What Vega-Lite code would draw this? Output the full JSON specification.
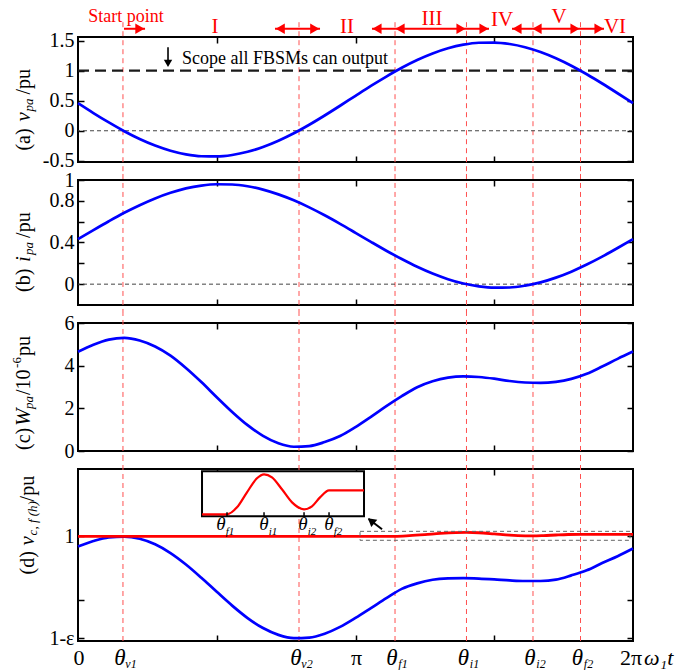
{
"$schema": "https://vega.github.io/schema/vega-lite/v6.json",
"background": "white",
"padding": {"left": 10, "top": 5, "right": 5, "bottom": 0},
"config": {
  "font": "Liberation Serif",
  "view": {"stroke": "black", "strokeWidth": 2},
  "axis": {"domain": false, "grid": false, "tickSize": -6, "tickColor": "black", "tickWidth": 1.5, "labelFont": "Liberation Serif", "labelFontSize": 20, "labelColor": "black", "labelPadding": 10, "labelOverlap": false, "labelFlush": false}
},
"datasets": {
  "curves": [
    {"t":0,"v":0.458,"i":0.432,"w":4.65,"vc":0.900},
    {"t":0.1745,"v":0.294,"i":0.519,"w":4.98,"vc":0.954},
    {"t":0.3491,"v":0.138,"i":0.604,"w":5.22,"vc":0.990},
    {"t":0.5236,"v":-0.008,"i":0.685,"w":5.30,"vc":0.998},
    {"t":0.6981,"v":-0.137,"i":0.758,"w":5.18,"vc":0.976},
    {"t":0.8727,"v":-0.246,"i":0.823,"w":4.90,"vc":0.922},
    {"t":1.0472,"v":-0.332,"i":0.877,"w":4.47,"vc":0.836},
    {"t":1.2217,"v":-0.392,"i":0.919,"w":3.89,"vc":0.724},
    {"t":1.3963,"v":-0.424,"i":0.946,"w":3.23,"vc":0.594},
    {"t":1.5708,"v":-0.428,"i":0.959,"w":2.52,"vc":0.456},
    {"t":1.7453,"v":-0.403,"i":0.957,"w":1.83,"vc":0.321},
    {"t":1.9199,"v":-0.350,"i":0.940,"w":1.21,"vc":0.199},
    {"t":2.0944,"v":-0.270,"i":0.908,"w":0.71,"vc":0.101},
    {"t":2.2689,"v":-0.166,"i":0.862,"w":0.36,"vc":0.034},
    {"t":2.4435,"v":-0.042,"i":0.805,"w":0.20,"vc":0.002},
    {"t":2.6180,"v":0.100,"i":0.737,"w":0.23,"vc":0.007},
    {"t":2.7925,"v":0.254,"i":0.661,"w":0.42,"vc":0.045},
    {"t":2.9671,"v":0.416,"i":0.579,"w":0.70,"vc":0.112},
    {"t":3.1416,"v":0.582,"i":0.493,"w":1.12,"vc":0.200},
    {"t":3.3161,"v":0.746,"i":0.406,"w":1.60,"vc":0.296},
    {"t":3.4907,"v":0.902,"i":0.321,"w":2.10,"vc":0.394},
    {"t":3.6652,"v":1.048,"i":0.241,"w":2.57,"vc":0.485},
    {"t":3.8397,"v":1.177,"i":0.167,"w":2.99,"vc":0.539},
    {"t":4.0143,"v":1.286,"i":0.102,"w":3.27,"vc":0.574},
    {"t":4.1888,"v":1.372,"i":0.048,"w":3.44,"vc":0.587},
    {"t":4.3633,"v":1.432,"i":0.006,"w":3.50,"vc":0.590},
    {"t":4.5379,"v":1.464,"i":-0.021,"w":3.47,"vc":0.586},
    {"t":4.7124,"v":1.468,"i":-0.034,"w":3.39,"vc":0.578},
    {"t":4.8869,"v":1.443,"i":-0.032,"w":3.28,"vc":0.568},
    {"t":5.0615,"v":1.390,"i":-0.014,"w":3.21,"vc":0.562},
    {"t":5.2360,"v":1.310,"i":0.017,"w":3.19,"vc":0.562},
    {"t":5.4105,"v":1.206,"i":0.063,"w":3.24,"vc":0.575},
    {"t":5.5851,"v":1.082,"i":0.120,"w":3.38,"vc":0.617},
    {"t":5.7596,"v":0.940,"i":0.188,"w":3.62,"vc":0.667},
    {"t":5.9341,"v":0.786,"i":0.264,"w":3.96,"vc":0.738},
    {"t":6.1087,"v":0.624,"i":0.347,"w":4.32,"vc":0.805},
    {"t":6.2832,"v":0.458,"i":0.432,"w":4.66,"vc":0.880}
  ],
  "red": [
    {"t":0,"r":1},{"t":3.589,"r":1},{"t":3.752,"r":1.006},{"t":3.927,"r":1.016},{"t":4.102,"r":1.028},
    {"t":4.276,"r":1.036},{"t":4.398,"r":1.038},{"t":4.538,"r":1.035},{"t":4.712,"r":1.024},{"t":4.887,"r":1.012},
    {"t":5.061,"r":1.005},{"t":5.151,"r":1.004},{"t":5.271,"r":1.007},{"t":5.411,"r":1.013},{"t":5.550,"r":1.018},
    {"t":5.689,"r":1.020},{"t":6.2832,"r":1.020}
  ],
  "thetas": [{"t":0.509},{"t":2.502},{"t":3.589},{"t":4.398},{"t":5.151},{"t":5.689}],
  "inset": [
    {"t":1.404,"r":1.216},{"t":1.687,"r":1.216},{"t":1.80,"r":1.284},{"t":1.913,"r":1.431},{"t":2.026,"r":1.569},
    {"t":2.106,"r":1.608},{"t":2.196,"r":1.578},{"t":2.309,"r":1.461},{"t":2.423,"r":1.333},{"t":2.559,"r":1.265},
    {"t":2.649,"r":1.294},{"t":2.740,"r":1.382},{"t":2.842,"r":1.451},{"t":3.238,"r":1.451}
  ],
  "arrows": [
    {"t":0.521,"t2":0.759},{"t":2.230,"t2":2.740},{"t":3.328,"t2":3.589},{"t":3.589,"t2":4.393},
    {"t":4.393,"t2":4.653},{"t":4.913,"t2":5.140},{"t":5.140,"t2":5.683},{"t":5.683,"t2":5.955}
  ],
  "heads": [
    {"t":0.70,"dir":"right"},{"t":2.29,"dir":"left"},{"t":2.68,"dir":"right"},{"t":3.385,"dir":"left"},
    {"t":3.646,"dir":"left"},{"t":4.336,"dir":"right"},{"t":4.596,"dir":"right"},{"t":4.97,"dir":"left"},
    {"t":5.197,"dir":"left"},{"t":5.626,"dir":"right"},{"t":5.898,"dir":"right"}
  ],
  "romans": [
    {"t":1.551,"y":1.722,"lab":"I"},{"t":3.045,"y":1.722,"lab":"II"},{"t":4.008,"y":1.855,"lab":"III"},
    {"t":4.800,"y":1.84,"lab":"IV"},{"t":5.445,"y":1.888,"lab":"V"},{"t":6.079,"y":1.722,"lab":"VI"}
  ],
  "xlab": [{"t":0.509,"s":"v1"},{"t":2.502,"s":"v2"},{"t":3.589,"s":"f1"},{"t":4.398,"s":"i1"},{"t":5.151,"s":"i2"},{"t":5.689,"s":"f2"}],
  "ilab": [{"t":1.619,"s":"f1"},{"t":2.106,"s":"i1"},{"t":2.547,"s":"i2"},{"t":2.842,"s":"f2"}]
},
"spacing": 18,
"bounds": "flush",
"vconcat": [
{
  "width": 555, "height": 125,
  "resolve": {"axis": {"x": "independent", "y": "independent"}},
  "layer": [
    {"data": {"name": "thetas"},
     "mark": {"type": "rule", "color": "#ff5050", "strokeDash": [5,4], "strokeWidth": 1},
     "encoding": {"x": {"field":"t","type":"quantitative","scale":{"domain":[0,6.2832],"nice":false,"zero":false},"axis":null},
                  "y": {"datum": -0.673, "type":"quantitative","scale":{"domain":[-0.52,1.56],"nice":false,"zero":false},"axis":null},
                  "y2": {"datum": 1.855}}},
    {"data": {"values": [{"y": 1}]},
     "mark": {"type": "rule", "color": "#1a1a1a", "strokeDash": [11,6], "strokeWidth": 2.2},
     "encoding": {"y": {"field":"y","type":"quantitative","scale":{"domain":[-0.52,1.56],"nice":false,"zero":false},"axis":null}}},
    {"data": {"values": [{"y": 0}]},
     "mark": {"type": "rule", "color": "#444444", "strokeDash": [4,3], "strokeWidth": 1},
     "encoding": {"y": {"field":"y","type":"quantitative","scale":{"domain":[-0.52,1.56],"nice":false,"zero":false},"axis":null}}},
    {"data": {"name": "curves"},
     "mark": {"type": "line", "color": "#0000ff", "strokeWidth": 2.7, "interpolate": "monotone"},
     "encoding": {"x": {"field":"t","type":"quantitative","scale":{"domain":[0,6.2832],"nice":false,"zero":false},"axis":{"orient":"bottom","values":[1.5708,3.1416,4.7124],"labels":false,"title":null}},
                  "y": {"field":"v","type":"quantitative","scale":{"domain":[-0.52,1.56],"nice":false,"zero":false},"axis":{"orient":"left","values":[-0.5,0,0.5,1,1.5],"title":null,"labelExpr":"datum.value==1.5?'1.5':datum.value==1?'1':datum.value==0.5?'0.5':datum.value==0?'0':'-0.5'"}}}},
    {"data": {"name": "curves"},
     "mark": {"type": "line", "opacity": 0},
     "encoding": {"x": {"field":"t","type":"quantitative","scale":{"domain":[0,6.2832],"nice":false,"zero":false},"axis":{"orient":"top","values":[1.5708,3.1416,4.7124],"labels":false,"title":null}},
                  "y": {"field":"v","type":"quantitative","scale":{"domain":[-0.52,1.56],"nice":false,"zero":false},"axis":{"orient":"right","values":[-0.5,0,0.5,1,1.5],"labels":false,"title":null}}}},
    {"data": {"values": [{"t":1.177,"y":1.188,"lab":"Scope all FBSMs can output"}]},
     "mark": {"type": "text", "align": "left", "baseline": "middle", "fontSize": 18, "color": "black"},
     "encoding": {"x": {"field":"t","type":"quantitative","scale":{"domain":[0,6.2832],"nice":false,"zero":false},"axis":null},
                  "y": {"field":"y","type":"quantitative","scale":{"domain":[-0.52,1.56],"nice":false,"zero":false},"axis":null},
                  "text": {"field":"lab"}}},
    {"data": {"values": [{"t":1.019,"y":1.388,"y2":1.09}]},
     "mark": {"type": "rule", "color": "black", "strokeWidth": 1.6},
     "encoding": {"x": {"field":"t","type":"quantitative","scale":{"domain":[0,6.2832],"nice":false,"zero":false},"axis":null},
                  "y": {"field":"y","type":"quantitative","scale":{"domain":[-0.52,1.56],"nice":false,"zero":false},"axis":null},
                  "y2": {"field":"y2"}}},
    {"data": {"values": [{"t":1.019,"y":1.12}]},
     "mark": {"type": "point", "shape": "triangle-down", "filled": true, "color": "black", "size": 70, "opacity": 1},
     "encoding": {"x": {"field":"t","type":"quantitative","scale":{"domain":[0,6.2832],"nice":false,"zero":false},"axis":null},
                  "y": {"field":"y","type":"quantitative","scale":{"domain":[-0.52,1.56],"nice":false,"zero":false},"axis":null}}},
    {"data": {"name": "arrows"},
     "mark": {"type": "rule", "color": "#ff0000", "strokeWidth": 2},
     "encoding": {"x": {"field":"t","type":"quantitative","scale":{"domain":[0,6.2832],"nice":false,"zero":false},"axis":null},
                  "x2": {"field":"t2"},
                  "y": {"datum": 1.697, "type":"quantitative","scale":{"domain":[-0.52,1.56],"nice":false,"zero":false},"axis":null}}},
    {"data": {"name": "heads"},
     "mark": {"type": "point", "filled": true, "color": "#ff0000", "size": 110, "opacity": 1},
     "encoding": {"x": {"field":"t","type":"quantitative","scale":{"domain":[0,6.2832],"nice":false,"zero":false},"axis":null},
                  "y": {"datum": 1.697, "type":"quantitative","scale":{"domain":[-0.52,1.56],"nice":false,"zero":false},"axis":null},
                  "shape": {"field":"dir","type":"nominal","scale":{"domain":["left","right"],"range":["triangle-left","triangle-right"]},"legend":null}}},
    {"data": {"values": [{"t":0.543,"y":1.888,"lab":"Start point"}]},
     "mark": {"type": "text", "align": "center", "baseline": "middle", "fontSize": 18, "color": "#ff0000"},
     "encoding": {"x": {"field":"t","type":"quantitative","scale":{"domain":[0,6.2832],"nice":false,"zero":false},"axis":null},
                  "y": {"field":"y","type":"quantitative","scale":{"domain":[-0.52,1.56],"nice":false,"zero":false},"axis":null},
                  "text": {"field":"lab"}}},
    {"data": {"name": "romans"},
     "mark": {"type": "text", "align": "center", "baseline": "middle", "fontSize": 21, "color": "#ff0000"},
     "encoding": {"x": {"field":"t","type":"quantitative","scale":{"domain":[0,6.2832],"nice":false,"zero":false},"axis":null},
                  "y": {"field":"y","type":"quantitative","scale":{"domain":[-0.52,1.56],"nice":false,"zero":false},"axis":null},
                  "text": {"field":"lab"}}},
    {"data": {"values": [{"t":-0.61,"y":-0.33}]},
     "mark": {"type": "text", "text": "(a)", "angle": 270, "align": "left", "baseline": "middle", "fontSize": 20, "color": "black"},
     "encoding": {"x": {"field":"t","type":"quantitative","scale":{"domain":[0,6.2832],"nice":false,"zero":false},"axis":null},
                  "y": {"field":"y","type":"quantitative","scale":{"domain":[-0.52,1.56],"nice":false,"zero":false},"axis":null}}},
    {"data": {"values": [{"t":-0.61,"y":-0.33}]},
     "mark": {"type": "text", "text": "v", "fontStyle": "italic", "angle": 270, "align": "left", "baseline": "middle", "fontSize": 21, "dx": 29, "color": "black"},
     "encoding": {"x": {"field":"t","type":"quantitative","scale":{"domain":[0,6.2832],"nice":false,"zero":false},"axis":null},
                  "y": {"field":"y","type":"quantitative","scale":{"domain":[-0.52,1.56],"nice":false,"zero":false},"axis":null}}},
    {"data": {"values": [{"t":-0.61,"y":-0.33}]},
     "mark": {"type": "text", "text": "pa", "fontStyle": "italic", "angle": 270, "align": "left", "baseline": "middle", "fontSize": 13, "dx": 39, "dy": 5, "color": "black"},
     "encoding": {"x": {"field":"t","type":"quantitative","scale":{"domain":[0,6.2832],"nice":false,"zero":false},"axis":null},
                  "y": {"field":"y","type":"quantitative","scale":{"domain":[-0.52,1.56],"nice":false,"zero":false},"axis":null}}},
    {"data": {"values": [{"t":-0.61,"y":-0.33}]},
     "mark": {"type": "text", "text": "/pu", "angle": 270, "align": "left", "baseline": "middle", "fontSize": 20, "dx": 56, "color": "black"},
     "encoding": {"x": {"field":"t","type":"quantitative","scale":{"domain":[0,6.2832],"nice":false,"zero":false},"axis":null},
                  "y": {"field":"y","type":"quantitative","scale":{"domain":[-0.52,1.56],"nice":false,"zero":false},"axis":null}}}
  ]
},
{
  "width": 555, "height": 125,
  "resolve": {"axis": {"x": "independent", "y": "independent"}},
  "layer": [
    {"data": {"name": "thetas"},
     "mark": {"type": "rule", "color": "#ff5050", "strokeDash": [5,4], "strokeWidth": 1},
     "encoding": {"x": {"field":"t","type":"quantitative","scale":{"domain":[0,6.2832],"nice":false,"zero":false},"axis":null},
                  "y": {"datum": -0.286, "type":"quantitative","scale":{"domain":[-0.2,1],"nice":false,"zero":false},"axis":null},
                  "y2": {"datum": 1.086}}},
    {"data": {"values": [{"y": 0}]},
     "mark": {"type": "rule", "color": "#444444", "strokeDash": [4,3], "strokeWidth": 1},
     "encoding": {"y": {"field":"y","type":"quantitative","scale":{"domain":[-0.2,1],"nice":false,"zero":false},"axis":null}}},
    {"data": {"name": "curves"},
     "mark": {"type": "line", "color": "#0000ff", "strokeWidth": 2.7, "interpolate": "monotone"},
     "encoding": {"x": {"field":"t","type":"quantitative","scale":{"domain":[0,6.2832],"nice":false,"zero":false},"axis":{"orient":"bottom","values":[1.5708,3.1416,4.7124],"labels":false,"title":null}},
                  "y": {"field":"i","type":"quantitative","scale":{"domain":[-0.2,1],"nice":false,"zero":false},"axis":{"orient":"left","values":[0,0.2,0.4,0.6,0.8,1],"title":null,"labelExpr":"datum.value==1?'1':datum.value==0.8?'0.8':datum.value==0.4?'0.4':datum.value==0?'0':''"}}}},
    {"data": {"name": "curves"},
     "mark": {"type": "line", "opacity": 0},
     "encoding": {"x": {"field":"t","type":"quantitative","scale":{"domain":[0,6.2832],"nice":false,"zero":false},"axis":{"orient":"top","values":[1.5708,3.1416,4.7124],"labels":false,"title":null}},
                  "y": {"field":"i","type":"quantitative","scale":{"domain":[-0.2,1],"nice":false,"zero":false},"axis":{"orient":"right","values":[0,0.2,0.4,0.6,0.8,1],"labels":false,"title":null}}}},
    {"data": {"values": [{"t":-0.61,"y":-0.074}]},
     "mark": {"type": "text", "text": "(b)", "angle": 270, "align": "left", "baseline": "middle", "fontSize": 20, "color": "black"},
     "encoding": {"x": {"field":"t","type":"quantitative","scale":{"domain":[0,6.2832],"nice":false,"zero":false},"axis":null},
                  "y": {"field":"y","type":"quantitative","scale":{"domain":[-0.2,1],"nice":false,"zero":false},"axis":null}}},
    {"data": {"values": [{"t":-0.61,"y":-0.074}]},
     "mark": {"type": "text", "text": "i", "fontStyle": "italic", "angle": 270, "align": "left", "baseline": "middle", "fontSize": 21, "dx": 30, "color": "black"},
     "encoding": {"x": {"field":"t","type":"quantitative","scale":{"domain":[0,6.2832],"nice":false,"zero":false},"axis":null},
                  "y": {"field":"y","type":"quantitative","scale":{"domain":[-0.2,1],"nice":false,"zero":false},"axis":null}}},
    {"data": {"values": [{"t":-0.61,"y":-0.074}]},
     "mark": {"type": "text", "text": "pa", "fontStyle": "italic", "angle": 270, "align": "left", "baseline": "middle", "fontSize": 13, "dx": 37, "dy": 5, "color": "black"},
     "encoding": {"x": {"field":"t","type":"quantitative","scale":{"domain":[0,6.2832],"nice":false,"zero":false},"axis":null},
                  "y": {"field":"y","type":"quantitative","scale":{"domain":[-0.2,1],"nice":false,"zero":false},"axis":null}}},
    {"data": {"values": [{"t":-0.61,"y":-0.074}]},
     "mark": {"type": "text", "text": "/pu", "angle": 270, "align": "left", "baseline": "middle", "fontSize": 20, "dx": 54, "color": "black"},
     "encoding": {"x": {"field":"t","type":"quantitative","scale":{"domain":[0,6.2832],"nice":false,"zero":false},"axis":null},
                  "y": {"field":"y","type":"quantitative","scale":{"domain":[-0.2,1],"nice":false,"zero":false},"axis":null}}}
  ]
},
{
  "width": 555, "height": 128,
  "resolve": {"axis": {"x": "independent", "y": "independent"}},
  "layer": [
    {"data": {"name": "thetas"},
     "mark": {"type": "rule", "color": "#ff5050", "strokeDash": [5,4], "strokeWidth": 1},
     "encoding": {"x": {"field":"t","type":"quantitative","scale":{"domain":[0,6.2832],"nice":false,"zero":false},"axis":null},
                  "y": {"datum": -0.42, "type":"quantitative","scale":{"domain":[0,6],"nice":false,"zero":false},"axis":null},
                  "y2": {"datum": 6.42}}},
    {"data": {"name": "curves"},
     "mark": {"type": "line", "color": "#0000ff", "strokeWidth": 2.7, "interpolate": "monotone"},
     "encoding": {"x": {"field":"t","type":"quantitative","scale":{"domain":[0,6.2832],"nice":false,"zero":false},"axis":{"orient":"bottom","values":[1.5708,3.1416,4.7124],"labels":false,"title":null}},
                  "y": {"field":"w","type":"quantitative","scale":{"domain":[0,6],"nice":false,"zero":false},"axis":{"orient":"left","values":[0,2,4,6],"title":null,"labelExpr":"datum.value==6?'6':datum.value==4?'4':datum.value==2?'2':'0'"}}}},
    {"data": {"name": "curves"},
     "mark": {"type": "line", "opacity": 0},
     "encoding": {"x": {"field":"t","type":"quantitative","scale":{"domain":[0,6.2832],"nice":false,"zero":false},"axis":{"orient":"top","values":[1.5708,3.1416,4.7124],"labels":false,"title":null}},
                  "y": {"field":"w","type":"quantitative","scale":{"domain":[0,6],"nice":false,"zero":false},"axis":{"orient":"right","values":[0,2,4,6],"labels":false,"title":null}}}},
    {"data": {"values": [{"t":-0.61,"y":0.05}]},
     "mark": {"type": "text", "text": "(c)", "angle": 270, "align": "left", "baseline": "middle", "fontSize": 20, "color": "black"},
     "encoding": {"x": {"field":"t","type":"quantitative","scale":{"domain":[0,6.2832],"nice":false,"zero":false},"axis":null},
                  "y": {"field":"y","type":"quantitative","scale":{"domain":[0,6],"nice":false,"zero":false},"axis":null}}},
    {"data": {"values": [{"t":-0.61,"y":0.05}]},
     "mark": {"type": "text", "text": "W", "fontStyle": "italic", "angle": 270, "align": "left", "baseline": "middle", "fontSize": 21, "dx": 24, "color": "black"},
     "encoding": {"x": {"field":"t","type":"quantitative","scale":{"domain":[0,6.2832],"nice":false,"zero":false},"axis":null},
                  "y": {"field":"y","type":"quantitative","scale":{"domain":[0,6],"nice":false,"zero":false},"axis":null}}},
    {"data": {"values": [{"t":-0.61,"y":0.05}]},
     "mark": {"type": "text", "text": "pa", "fontStyle": "italic", "angle": 270, "align": "left", "baseline": "middle", "fontSize": 13, "dx": 41, "dy": 5, "color": "black"},
     "encoding": {"x": {"field":"t","type":"quantitative","scale":{"domain":[0,6.2832],"nice":false,"zero":false},"axis":null},
                  "y": {"field":"y","type":"quantitative","scale":{"domain":[0,6],"nice":false,"zero":false},"axis":null}}},
    {"data": {"values": [{"t":-0.61,"y":0.05}]},
     "mark": {"type": "text", "text": "/10", "angle": 270, "align": "left", "baseline": "middle", "fontSize": 20, "dx": 55, "color": "black"},
     "encoding": {"x": {"field":"t","type":"quantitative","scale":{"domain":[0,6.2832],"nice":false,"zero":false},"axis":null},
                  "y": {"field":"y","type":"quantitative","scale":{"domain":[0,6],"nice":false,"zero":false},"axis":null}}},
    {"data": {"values": [{"t":-0.61,"y":0.05}]},
     "mark": {"type": "text", "text": "-6", "angle": 270, "align": "left", "baseline": "middle", "fontSize": 13, "dx": 82, "dy": -7, "color": "black"},
     "encoding": {"x": {"field":"t","type":"quantitative","scale":{"domain":[0,6.2832],"nice":false,"zero":false},"axis":null},
                  "y": {"field":"y","type":"quantitative","scale":{"domain":[0,6],"nice":false,"zero":false},"axis":null}}},
    {"data": {"values": [{"t":-0.61,"y":0.05}]},
     "mark": {"type": "text", "text": "pu", "angle": 270, "align": "left", "baseline": "middle", "fontSize": 20, "dx": 94, "color": "black"},
     "encoding": {"x": {"field":"t","type":"quantitative","scale":{"domain":[0,6.2832],"nice":false,"zero":false},"axis":null},
                  "y": {"field":"y","type":"quantitative","scale":{"domain":[0,6],"nice":false,"zero":false},"axis":null}}}
  ]
},
{
  "width": 555, "height": 172,
  "resolve": {"axis": {"x": "independent", "y": "independent"}},
  "layer": [
    {"data": {"name": "thetas"},
     "mark": {"type": "rule", "color": "#ff5050", "strokeDash": [5,4], "strokeWidth": 1},
     "encoding": {"x": {"field":"t","type":"quantitative","scale":{"domain":[0,6.2832],"nice":false,"zero":false},"axis":null},
                  "y": {"datum": -0.026, "type":"quantitative","scale":{"domain":[-0.026,1.66],"nice":false,"zero":false},"axis":null},
                  "y2": {"datum": 1.748}}},
    {"data": {"name": "curves"},
     "mark": {"type": "line", "color": "#0000ff", "strokeWidth": 2.7, "interpolate": "monotone"},
     "encoding": {"x": {"field":"t","type":"quantitative","scale":{"domain":[0,6.2832],"nice":false,"zero":false},"axis":{"orient":"bottom","values":[1.5708,3.1416,4.7124],"labels":false,"title":null}},
                  "y": {"field":"vc","type":"quantitative","scale":{"domain":[-0.026,1.66],"nice":false,"zero":false},"axis":{"orient":"left","values":[0,0.373,1],"title":null,"labelExpr":"datum.value==1?'1':datum.value==0?'1-ε':''"}}}},
    {"data": {"name": "curves"},
     "mark": {"type": "line", "opacity": 0},
     "encoding": {"x": {"field":"t","type":"quantitative","scale":{"domain":[0,6.2832],"nice":false,"zero":false},"axis":{"orient":"top","values":[1.5708,3.1416,4.7124],"labels":false,"title":null}},
                  "y": {"field":"vc","type":"quantitative","scale":{"domain":[-0.026,1.66],"nice":false,"zero":false},"axis":{"orient":"right","values":[0,0.373,1],"labels":false,"title":null}}}},
    {"data": {"name": "red"},
     "mark": {"type": "line", "color": "#ff0000", "strokeWidth": 2.8, "interpolate": "monotone"},
     "encoding": {"x": {"field":"t","type":"quantitative","scale":{"domain":[0,6.2832],"nice":false,"zero":false},"axis":null},
                  "y": {"field":"r","type":"quantitative","scale":{"domain":[-0.026,1.66],"nice":false,"zero":false},"axis":null}}},
    {"data": {"values": [{"t":3.193,"t2":6.249,"y":0.961,"y2":1.049}]},
     "mark": {"type": "rect", "fillOpacity": 0, "stroke": "#666666", "strokeWidth": 1, "strokeDash": [4,3]},
     "encoding": {"x": {"field":"t","type":"quantitative","scale":{"domain":[0,6.2832],"nice":false,"zero":false},"axis":null},
                  "x2": {"field":"t2"},
                  "y": {"field":"y","type":"quantitative","scale":{"domain":[-0.026,1.66],"nice":false,"zero":false},"axis":null},
                  "y2": {"field":"y2"}}},
    {"data": {"values": [{"t":1.404,"t2":3.238,"y":1.196,"y2":1.637}]},
     "mark": {"type": "rect", "fill": "white", "stroke": "black", "strokeWidth": 2},
     "encoding": {"x": {"field":"t","type":"quantitative","scale":{"domain":[0,6.2832],"nice":false,"zero":false},"axis":null},
                  "x2": {"field":"t2"},
                  "y": {"field":"y","type":"quantitative","scale":{"domain":[-0.026,1.66],"nice":false,"zero":false},"axis":null},
                  "y2": {"field":"y2"}}},
    {"data": {"name": "inset"},
     "mark": {"type": "line", "color": "#ff0000", "strokeWidth": 2.2, "interpolate": "monotone"},
     "encoding": {"x": {"field":"t","type":"quantitative","scale":{"domain":[0,6.2832],"nice":false,"zero":false},"axis":null},
                  "y": {"field":"r","type":"quantitative","scale":{"domain":[-0.026,1.66],"nice":false,"zero":false},"axis":null}}},
    {"data": {"values": [{"t":1.687},{"t":2.106},{"t":2.559},{"t":2.842}]},
     "mark": {"type": "rule", "color": "black", "strokeWidth": 1.5},
     "encoding": {"x": {"field":"t","type":"quantitative","scale":{"domain":[0,6.2832],"nice":false,"zero":false},"axis":null},
                  "y": {"datum": 1.196, "type":"quantitative","scale":{"domain":[-0.026,1.66],"nice":false,"zero":false},"axis":null},
                  "y2": {"datum": 1.236}}},
    {"data": {"name": "ilab"},
     "mark": {"type": "text", "text": "θ", "fontStyle": "italic", "fontSize": 19, "align": "center", "baseline": "middle", "color": "black"},
     "encoding": {"x": {"field":"t","type":"quantitative","scale":{"domain":[0,6.2832],"nice":false,"zero":false},"axis":null},
                  "y": {"datum": 1.118, "type":"quantitative","scale":{"domain":[-0.026,1.66],"nice":false,"zero":false},"axis":null}}},
    {"data": {"name": "ilab"},
     "mark": {"type": "text", "fontStyle": "italic", "fontSize": 11, "align": "center", "baseline": "middle", "dx": 9, "dy": 8, "color": "black"},
     "encoding": {"x": {"field":"t","type":"quantitative","scale":{"domain":[0,6.2832],"nice":false,"zero":false},"axis":null},
                  "y": {"datum": 1.118, "type":"quantitative","scale":{"domain":[-0.026,1.66],"nice":false,"zero":false},"axis":null},
                  "text": {"field":"s"}}},
    {"data": {"values": [{"t":3.442,"y":1.069,"t2":3.29,"y2":1.17}]},
     "mark": {"type": "rule", "color": "black", "strokeWidth": 2},
     "encoding": {"x": {"field":"t","type":"quantitative","scale":{"domain":[0,6.2832],"nice":false,"zero":false},"axis":null},
                  "x2": {"field":"t2"},
                  "y": {"field":"y","type":"quantitative","scale":{"domain":[-0.026,1.66],"nice":false,"zero":false},"axis":null},
                  "y2": {"field":"y2"}}},
    {"data": {"values": [{"t":3.318,"y":1.152}]},
     "mark": {"type": "point", "shape": "triangle-up", "angle": -51, "filled": true, "color": "black", "size": 90, "opacity": 1},
     "encoding": {"x": {"field":"t","type":"quantitative","scale":{"domain":[0,6.2832],"nice":false,"zero":false},"axis":null},
                  "y": {"field":"y","type":"quantitative","scale":{"domain":[-0.026,1.66],"nice":false,"zero":false},"axis":null}}},
    {"data": {"name": "xlab"},
     "mark": {"type": "text", "text": "θ", "fontStyle": "italic", "fontSize": 23, "align": "center", "baseline": "middle", "dx": -3, "dy": 17, "color": "black"},
     "encoding": {"x": {"field":"t","type":"quantitative","scale":{"domain":[0,6.2832],"nice":false,"zero":false},"axis":null},
                  "y": {"datum": -0.026, "type":"quantitative","scale":{"domain":[-0.026,1.66],"nice":false,"zero":false},"axis":null}}},
    {"data": {"name": "xlab"},
     "mark": {"type": "text", "fontStyle": "italic", "fontSize": 12, "align": "center", "baseline": "middle", "dx": 8, "dy": 23, "color": "black"},
     "encoding": {"x": {"field":"t","type":"quantitative","scale":{"domain":[0,6.2832],"nice":false,"zero":false},"axis":null},
                  "y": {"datum": -0.026, "type":"quantitative","scale":{"domain":[-0.026,1.66],"nice":false,"zero":false},"axis":null},
                  "text": {"field":"s"}}},
    {"data": {"values": [{"t":0,"lab":"0"},{"t":3.1416,"lab":"π"}]},
     "mark": {"type": "text", "fontSize": 22, "align": "center", "baseline": "middle", "dx": 1, "dy": 17, "color": "black"},
     "encoding": {"x": {"field":"t","type":"quantitative","scale":{"domain":[0,6.2832],"nice":false,"zero":false},"axis":null},
                  "y": {"datum": -0.026, "type":"quantitative","scale":{"domain":[-0.026,1.66],"nice":false,"zero":false},"axis":null},
                  "text": {"field":"lab"}}},
    {"data": {"values": [{"t":6.2832,"lab":"2π"}]},
     "mark": {"type": "text", "fontSize": 22, "align": "right", "baseline": "middle", "dx": 9, "dy": 17, "color": "black"},
     "encoding": {"x": {"field":"t","type":"quantitative","scale":{"domain":[0,6.2832],"nice":false,"zero":false},"axis":null},
                  "y": {"datum": -0.026, "type":"quantitative","scale":{"domain":[-0.026,1.66],"nice":false,"zero":false},"axis":null},
                  "text": {"field":"lab"}}},
    {"data": {"values": [{"t":6.2832,"lab":"ω₁t"}]},
     "mark": {"type": "text", "fontSize": 22, "fontStyle": "italic", "align": "left", "baseline": "middle", "dx": 11, "dy": 17, "color": "black"},
     "encoding": {"x": {"field":"t","type":"quantitative","scale":{"domain":[0,6.2832],"nice":false,"zero":false},"axis":null},
                  "y": {"datum": -0.026, "type":"quantitative","scale":{"domain":[-0.026,1.66],"nice":false,"zero":false},"axis":null},
                  "text": {"field":"lab"}}},
    {"data": {"values": [{"t":-0.57,"y":0.627}]},
     "mark": {"type": "text", "text": "(d)", "angle": 270, "align": "left", "baseline": "middle", "fontSize": 20, "color": "black"},
     "encoding": {"x": {"field":"t","type":"quantitative","scale":{"domain":[0,6.2832],"nice":false,"zero":false},"axis":null},
                  "y": {"field":"y","type":"quantitative","scale":{"domain":[-0.026,1.66],"nice":false,"zero":false},"axis":null}}},
    {"data": {"values": [{"t":-0.57,"y":0.627}]},
     "mark": {"type": "text", "text": "v", "fontStyle": "italic", "angle": 270, "align": "left", "baseline": "middle", "fontSize": 21, "dx": 29, "color": "black"},
     "encoding": {"x": {"field":"t","type":"quantitative","scale":{"domain":[0,6.2832],"nice":false,"zero":false},"axis":null},
                  "y": {"field":"y","type":"quantitative","scale":{"domain":[-0.026,1.66],"nice":false,"zero":false},"axis":null}}},
    {"data": {"values": [{"t":-0.57,"y":0.627}]},
     "mark": {"type": "text", "text": "c, f (h)", "fontStyle": "italic", "angle": 270, "align": "left", "baseline": "middle", "fontSize": 13, "dx": 39, "dy": 5, "color": "black"},
     "encoding": {"x": {"field":"t","type":"quantitative","scale":{"domain":[0,6.2832],"nice":false,"zero":false},"axis":null},
                  "y": {"field":"y","type":"quantitative","scale":{"domain":[-0.026,1.66],"nice":false,"zero":false},"axis":null}}},
    {"data": {"values": [{"t":-0.57,"y":0.627}]},
     "mark": {"type": "text", "text": "/pu", "angle": 270, "align": "left", "baseline": "middle", "fontSize": 20, "dx": 73, "color": "black"},
     "encoding": {"x": {"field":"t","type":"quantitative","scale":{"domain":[0,6.2832],"nice":false,"zero":false},"axis":null},
                  "y": {"field":"y","type":"quantitative","scale":{"domain":[-0.026,1.66],"nice":false,"zero":false},"axis":null}}}
  ]
}
]
}
